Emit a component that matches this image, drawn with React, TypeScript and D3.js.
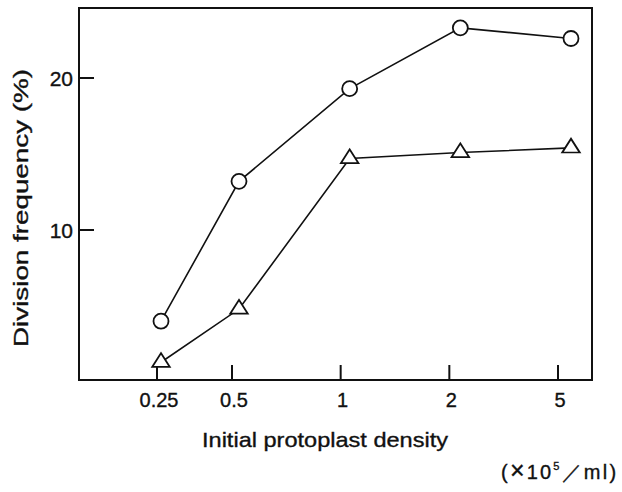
import React from "react";
import * as d3 from "d3";

const categories = ["0.25", "0.5", "1", "2", "5"];
const circleSeries = [4.0, 13.2, 19.3, 23.3, 22.6];
const triangleSeries = [1.3, 4.8, 14.7, 15.1, 15.4];
const yTicks = [10, 20];

const W = 622;
const H = 492;
const frame = { left: 79, right: 592, top: 8, bottom: 380 };

export default function App() {
  const y = d3.scaleLinear().domain([0, 20]).range([382, 78]);
  const idx = categories.map((_, i) => i);
  // piecewise scales: first interval is shorter in the original figure
  const xPt = d3.scaleLinear().domain([0, 1, 4]).range([161, 239, 571]);
  const xTick = d3.scaleLinear().domain([0, 1, 4]).range([157, 232, 558]);

  const line = d3
    .line<number>()
    .x((_, i) => xPt(i))
    .y((d) => y(d));

  const tri = d3.symbol().type(d3.symbolTriangle).size(120)();
  const txt = { fill: "#111", stroke: "#111", strokeWidth: 0.35 };

  return (
    <svg
      width={W}
      height={H}
      style={{ position: "absolute", left: 0, top: 0, background: "#fff" }}
      fontFamily="'Liberation Sans', Arial, Helvetica, sans-serif"
    >
      <rect x={0} y={0} width={W} height={H} fill="#fff" />
      {/* frame */}
      <rect
        x={frame.left}
        y={frame.top}
        width={frame.right - frame.left}
        height={frame.bottom - frame.top}
        fill="none"
        stroke="#111"
        strokeWidth={2}
      />
      {/* y ticks */}
      {yTicks.map((t) => (
        <g key={t}>
          <line x1={frame.left} x2={frame.left + 15} y1={y(t)} y2={y(t)} stroke="#111" strokeWidth={2} />
          <text x={frame.left - 6} y={y(t)} dy="0.36em" textAnchor="end" fontSize={21} {...txt}>
            {t}
          </text>
        </g>
      ))}
      {/* x ticks */}
      {idx.map((i) => (
        <g key={i}>
          <line
            x1={xTick(i)}
            x2={xTick(i)}
            y1={frame.bottom}
            y2={frame.bottom - 15}
            stroke="#111"
            strokeWidth={2}
          />
          <text x={xTick(i) + 2} y={407} textAnchor="middle" fontSize={20} {...txt}>
            {categories[i]}
          </text>
        </g>
      ))}
      {/* lines */}
      <path d={line(circleSeries) || ""} fill="none" stroke="#111" strokeWidth={1.6} />
      <path d={line(triangleSeries) || ""} fill="none" stroke="#111" strokeWidth={1.6} />
      {/* markers */}
      {circleSeries.map((v, i) => (
        <circle key={"c" + i} cx={xPt(i)} cy={y(v)} r={7.5} fill="#fff" stroke="#111" strokeWidth={1.8} />
      ))}
      {triangleSeries.map((v, i) => (
        <path
          key={"t" + i}
          d={tri || ""}
          transform={`translate(${xPt(i)},${y(v)}) scale(1.05,0.95)`}
          fill="#fff"
          stroke="#111"
          strokeWidth={1.8}
        />
      ))}
      {/* axis labels */}
      <text
        x={325}
        y={447}
        textAnchor="middle"
        fontSize={21}
        {...txt}
        textLength={246}
        lengthAdjust="spacingAndGlyphs"
      >
        Initial protoplast density
      </text>
      <text
        transform="translate(28,208) rotate(-90)"
        textAnchor="middle"
        fontSize={20}
        {...txt}
        textLength={278}
        lengthAdjust="spacingAndGlyphs"
      >
        Division frequency (%)
      </text>
      <text x={501} y={479} fontSize={20} letterSpacing={2.2} {...txt}>
        (
        <tspan fontSize={25}>×</tspan>
        <tspan>10</tspan>
        <tspan dy={-9} fontSize={11}>5</tspan>
        <tspan dy={9}>／ml)</tspan>
      </text>
    </svg>
  );
}
